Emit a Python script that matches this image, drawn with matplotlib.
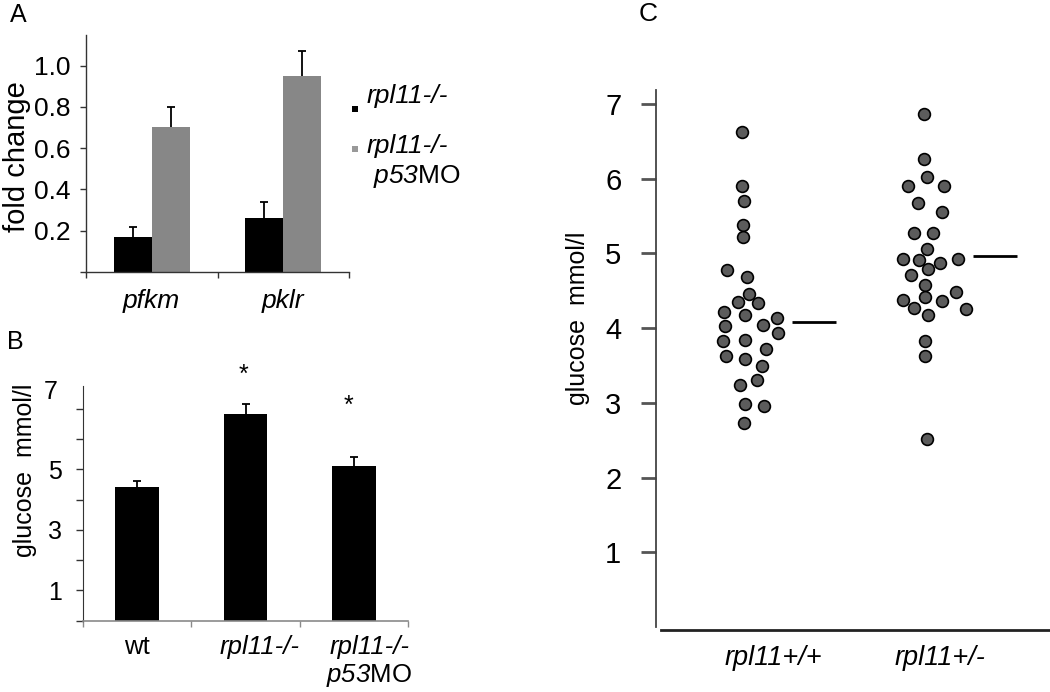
import numpy as np
import matplotlib
matplotlib.use("Agg")
import matplotlib.pyplot as plt
from matplotlib.patches import Rectangle
import matplotlib.transforms as mtransforms

plt.rcParams['font.family'] = ['Liberation Sans', 'DejaVu Sans']
plt.rcParams['mathtext.fontset'] = 'custom'
plt.rcParams['mathtext.rm'] = 'Liberation Sans'
plt.rcParams['mathtext.it'] = 'Liberation Sans:italic'

# ---------------- data ----------------
# Panel A
genes_a = ["pfkm", "pklr"]
fold_rpl11 = [0.17, 0.26]
fold_rpl11_err = [0.05, 0.08]
fold_p53mo = [0.70, 0.95]
fold_p53mo_err = [0.10, 0.12]
yticks_a = [0.0, 0.2, 0.4, 0.6, 0.8, 1.0]
yticklabels_a = ["", "0.2", "0.4", "0.6", "0.8", "1.0"]

# Panel B
groups_b = ["wt", "rpl11-/-", "rpl11-/-\np53$\\mathrm{MO}$"]
glucose_b = [4.41, 6.81, 5.10]
glucose_b_err = [0.21, 0.33, 0.29]
yticks_b = [0, 1, 2, 3, 4, 5, 6, 7]
yticklabels_b = ["", "1", "", "3", "", "5", "", ""]

# Panel C
groups_c = ["rpl11+/+", "rpl11+/-"]
wt_values = [6.62, 5.90, 5.70, 5.38, 5.22, 4.78, 4.69, 4.46, 4.35, 4.34,
             4.22, 4.17, 4.14, 4.03, 4.04, 3.93, 3.83, 3.84, 3.63, 3.72,
             3.58, 3.49, 3.24, 3.30, 2.98, 2.96, 2.73]
wt_jitter = [-0.018, -0.017, -0.007, -0.009, -0.011, -0.099, 0.009, 0.022, -0.037, 0.073,
             -0.114, -0.002, 0.177, -0.109, 0.098, 0.181, -0.120, -0.002, -0.103, 0.116,
             0.002, 0.094, -0.028, 0.065, 0.000, 0.107, -0.004]
het_values = [6.86, 6.26, 6.02, 5.90, 5.90, 5.67, 5.55, 5.27, 5.27, 5.06,
              4.92, 4.91, 4.87, 4.93, 4.79, 4.71, 4.58, 4.48, 4.38, 4.41,
              4.36, 4.27, 4.26, 4.18, 3.83, 3.63, 2.51]
het_jitter = [-0.013, -0.013, 0.004, -0.101, 0.099, -0.044, 0.090, -0.066, 0.040, 0.004,
              -0.125, -0.037, 0.079, 0.175, 0.013, -0.085, -0.007, 0.164, -0.125, -0.004,
              0.090, -0.066, 0.221, 0.013, -0.004, -0.004, 0.006]
means_c = [4.08, 4.97]
yticks_c = [1, 2, 3, 4, 5, 6, 7]

# ---------------- figure ----------------
W, H = 1050, 692
fig = plt.figure(figsize=(W / 100, H / 100), dpi=100)


def rect(x0, y0, x1, y1):
    return [x0 / W, 1 - y1 / H, (x1 - x0) / W, (y1 - y0) / H]


def fpt(x, y):
    return x / W, 1 - y / H


# ---------------- Panel A ----------------
ax_a = fig.add_axes(rect(86, 35, 349, 272))
xa = np.arange(len(genes_a))
wa = 0.2875
ax_a.bar(xa - wa / 2, fold_rpl11, wa, color="black", zorder=2)
ax_a.bar(xa + wa / 2, fold_p53mo, wa, color="#878787", zorder=2)
for xs, v, e in [(xa - wa / 2, fold_rpl11, fold_rpl11_err),
                 (xa + wa / 2, fold_p53mo, fold_p53mo_err)]:
    eb = ax_a.errorbar(xs, v, yerr=[np.zeros(len(e)), e], fmt="none",
                       ecolor="black", elinewidth=1.3, capsize=3, capthick=1.3, zorder=3)
    eb[1][0].set_visible(False)
ax_a.set_xlim(-0.5, 1.5)
ax_a.set_ylim(0, 1.148)
ax_a.spines[["top", "right"]].set_visible(False)
for s in ["left", "bottom"]:
    ax_a.spines[s].set_color("#333333")
    ax_a.spines[s].set_linewidth(1.0)
ax_a.set_yticks(yticks_a)
ax_a.set_yticklabels(yticklabels_a)
ax_a.tick_params(axis="y", direction="out", length=4, width=1, color="#333333",
                 labelsize=19, pad=7)
ax_a.set_xticks(xa)
ax_a.set_xticklabels(genes_a, fontstyle="italic")
ax_a.set_xticks([-0.5, 0.5, 1.5], minor=True)
ax_a.tick_params(axis="x", which="major", length=0, labelsize=19, pad=12)
ax_a.tick_params(axis="x", which="minor", length=4, width=1, color="#333333")
fig.text(*fpt(17, 157), "fold change", rotation=90, ha="center", va="center", fontsize=21)
fig.text(*fpt(18, 15), "A", ha="center", va="center", fontsize=18)

# legend (manual)
for (cx, cy), col in [((355, 109), "black"), ((355, 149), "#999999")]:
    x0, y0 = fpt(cx - 3, cy + 3)
    fig.add_artist(Rectangle((x0, y0), 6 / W, 6 / H, transform=fig.transFigure,
                             facecolor=col, edgecolor="none"))
fig.text(*fpt(367, 96), "rpl11-/-", ha="left", va="center", fontsize=19, fontstyle="italic")
fig.text(*fpt(367, 146), "rpl11-/-", ha="left", va="center", fontsize=19, fontstyle="italic")
fig.text(*fpt(373, 176), "p53$\\mathrm{MO}$", ha="left", va="center", fontsize=19,
         fontstyle="italic")

# ---------------- Panel B ----------------
ax_b = fig.add_axes(rect(82.7, 386, 408.3, 620.7))
xb = np.arange(len(groups_b))
ax_b.bar(xb, glucose_b, 0.4, color="black", zorder=2)
eb = ax_b.errorbar(xb, glucose_b, yerr=[np.zeros(len(xb)), glucose_b_err], fmt="none",
                   ecolor="black", elinewidth=1.3, capsize=3, capthick=1.3, zorder=3)
eb[1][0].set_visible(False)
ax_b.set_xlim(-0.5, 2.5)
ax_b.set_ylim(0, 7.75)
ax_b.spines[["top", "right"]].set_visible(False)
ax_b.spines["left"].set_color("#333333")
ax_b.spines["bottom"].set_color("#8a8a8a")
ax_b.spines["bottom"].set_linewidth(1.2)
ax_b.set_yticks(yticks_b)
ax_b.set_yticklabels(yticklabels_b)
ax_b.tick_params(axis="y", direction="out", length=5, width=1, color="#333333",
                 labelsize=18, pad=10)
ax_b.text(-0.076, 7.56, "7", transform=mtransforms.blended_transform_factory(ax_b.transAxes, ax_b.transData),
          ha="right", va="center", fontsize=18)
ax_b.set_xticks([-0.5, 0.5, 1.5, 2.5])
ax_b.set_xticklabels([])
ax_b.tick_params(axis="x", length=4, width=1, color="#8a8a8a")
label_shift_b = [0.0, 0.13, 0.14]
tb = mtransforms.blended_transform_factory(ax_b.transData, ax_b.transAxes)
for i, lab in enumerate(groups_b):
    style = "normal" if i == 0 else "italic"
    ax_b.text(xb[i] + label_shift_b[i], -0.06, lab, transform=tb, ha="center", va="top",
              fontsize=18.5, fontstyle=style, linespacing=1.15)
ax_b.text(0.98, 7.9, "*", ha="center", va="baseline", fontsize=18)
ax_b.text(1.95, 6.85, "*", ha="center", va="baseline", fontsize=18)
fig.text(*fpt(25, 470), "glucose  mmol/l", rotation=90, ha="center", va="center", fontsize=18)
fig.text(*fpt(15, 342), "B", ha="center", va="center", fontsize=18)

# ---------------- Panel C ----------------
ax_c = fig.add_axes(rect(656, 90, 1050, 630))
ax_c.scatter(1 + np.array(wt_jitter), wt_values, s=72, facecolor="#5c5c5c",
             edgecolor="black", linewidth=1.2, zorder=3)
ax_c.scatter(2 + np.array(het_jitter), het_values, s=72, facecolor="#5c5c5c",
             edgecolor="black", linewidth=1.2, zorder=3)
xc = np.arange(1, len(groups_c) + 1)
ax_c.hlines(means_c, xc + 0.26, xc + 0.50, color="black", linewidth=2)
ax_c.set_xlim(0.508, 2.685)
ax_c.set_ylim(-0.041, 7.187)
ax_c.spines[["top", "right"]].set_visible(False)
ax_c.spines["left"].set_bounds(0, 7.187)
ax_c.spines["left"].set_color("#444444")
ax_c.spines["left"].set_linewidth(1.3)
ax_c.spines["bottom"].set_bounds(0.536, 2.685)
ax_c.spines["bottom"].set_color("#222222")
ax_c.spines["bottom"].set_linewidth(2)
ax_c.set_yticks(yticks_c)
ax_c.tick_params(axis="y", direction="out", length=11, width=2, color="#555555",
                 labelsize=21, pad=14)
ax_c.set_xticks(xc + np.array([0.155, 0.077]))
ax_c.set_xticklabels(groups_c, fontstyle="italic")
ax_c.tick_params(axis="x", length=0, labelsize=19.5, pad=11)
fig.text(*fpt(578, 318), "glucose  mmol/l", rotation=90, ha="center", va="center", fontsize=18)
fig.text(*fpt(648, 14), "C", ha="center", va="center", fontsize=19)

fig.savefig("out.png", dpi=100)
